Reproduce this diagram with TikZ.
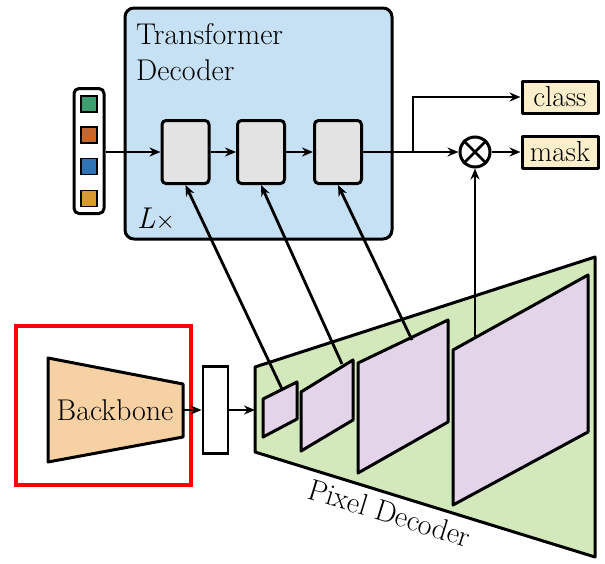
\documentclass[tikz,border=0pt]{standalone}
\usetikzlibrary{arrows.meta}
\definecolor{tdblue}{HTML}{C6E0F4}
\definecolor{blkgray}{HTML}{E3E3E3}
\definecolor{peach}{HTML}{F6D1A3}
\definecolor{pdgreen}{HTML}{D3E8BB}
\definecolor{pink}{HTML}{E4D4EA}
\definecolor{cream}{HTML}{FBEFCB}
\definecolor{qgreen}{HTML}{3E9E70}
\definecolor{qorange}{HTML}{C9672B}
\definecolor{qblue}{HTML}{2E74B5}
\definecolor{qyellow}{HTML}{D99A30}
\tikzset{
  big/.style={font=\fontsize{30}{32}\selectfont},
  outl/.style={draw=black, line width=3pt, line join=round},
  conn/.style={line width=2.8pt, -{Stealth[length=11pt,width=9pt]}},
  blk/.style={outl, fill=blkgray, rounded corners=4pt, minimum width=47pt, minimum height=63pt, inner sep=0pt},
  outbox/.style={outl, fill=cream, minimum width=76pt, minimum height=32pt, inner sep=0pt, font=\fontsize{29}{31}\selectfont},
  qsq/.style={draw=black, line width=1.2pt, minimum width=16pt, minimum height=16pt, inner sep=0pt},
}
\begin{document}
\begin{tikzpicture}[x=1pt,y=-1pt]
\useasboundingbox (0,0) rectangle (605,563);
% Transformer decoder
\node[outl, fill=tdblue, rounded corners=9pt, minimum width=267pt, minimum height=231pt, inner sep=0pt] (td) at (258.5,123.5) {};
\node[big, anchor=base west, inner sep=0pt] (t1) at (136,44) {Transformer};
\node[big, anchor=base west, inner sep=0pt] (t2) at (136,80) {Decoder};
\node[big, anchor=base west, inner sep=0pt] (lx) at (137,228) {\textit{L}$\times$};
% queries
\node[outl, fill=white, rounded corners=5pt, minimum width=30pt, minimum height=125pt, inner sep=0pt] (q) at (89,151) {};
\node[qsq, fill=qgreen] (q1) at (89,104) {};
\node[qsq, fill=qorange] (q2) at (89,135) {};
\node[qsq, fill=qblue] (q3) at (89,166.5) {};
\node[qsq, fill=qyellow] (q4) at (89,198.5) {};
% blocks
\node[blk] (b1) at (185.5,152) {};
\node[blk] (b2) at (261,152) {};
\node[blk] (b3) at (338,152) {};
\draw[conn] (q.east |- b1.west) -- (b1.west);
\draw[conn] (b1.east) -- (b2.west);
\draw[conn] (b2.east) -- (b3.west);
% outputs
\node[outbox] (cls) at (560,97) {class};
\node[outbox] (msk) at (560,152) {mask};
\node[draw=black, line width=3pt, circle, minimum size=30pt, inner sep=0pt] (ot) at (475,152) {};
\draw[line width=2.8pt] (ot.north east) -- (ot.south west) (ot.north west) -- (ot.south east);
\coordinate (br) at (413,152);
\draw[conn] (b3.east) -- (ot.west);
\draw[conn] (br) |- (cls.west);
\draw[conn] (ot.east) -- (msk.west);
% backbone
\node[draw=red, line width=4pt, minimum width=175pt, minimum height=159pt, inner sep=0pt] (rb) at (103.5,405.5) {};
\draw[outl, fill=peach] (48,358) -- (183,384) -- (183,437) -- (48,462) -- cycle;
\node[big] (bb) at (115,410) {Backbone};
\coordinate (bbR) at (183,410);
\node[draw=black, line width=2.8pt, fill=white, minimum width=25pt, minimum height=87pt, inner sep=0pt] (fm) at (215.5,410) {};
\coordinate (pdL) at (255,410);
\draw[conn] (bbR) -- (fm.west);
\draw[conn] (fm.east) -- (pdL);
% pixel decoder
\draw[outl, fill=pdgreen] (255,367) -- (595,257) -- (595,557) -- (255,452) -- cycle;
\draw[outl, fill=pink] (263,399) -- (297,382) -- (297,419) -- (263,437) -- cycle;
\draw[outl, fill=pink] (301,392) -- (353,360) -- (353,420) -- (301,451) -- cycle;
\draw[outl, fill=pink] (358,363) -- (448,320) -- (448,422) -- (358,473) -- cycle;
\draw[outl, fill=pink] (453,350) -- (588,275) -- (588,432) -- (453,505) -- cycle;
\node[big, rotate=-17.2] (pdt) at (390,513) {Pixel Decoder};
\coordinate (p1t) at (282,389);
\coordinate (p2t) at (342,364);
\coordinate (p3t) at (412,340);
\coordinate (p4t) at (475,338);
\draw[conn] (p1t) -- (b1.south);
\draw[conn] (p2t) -- (b2.south);
\draw[conn] (p3t) -- (b3.south);
\draw[conn] (p4t) -- (ot.south);
\end{tikzpicture}
\end{document}
